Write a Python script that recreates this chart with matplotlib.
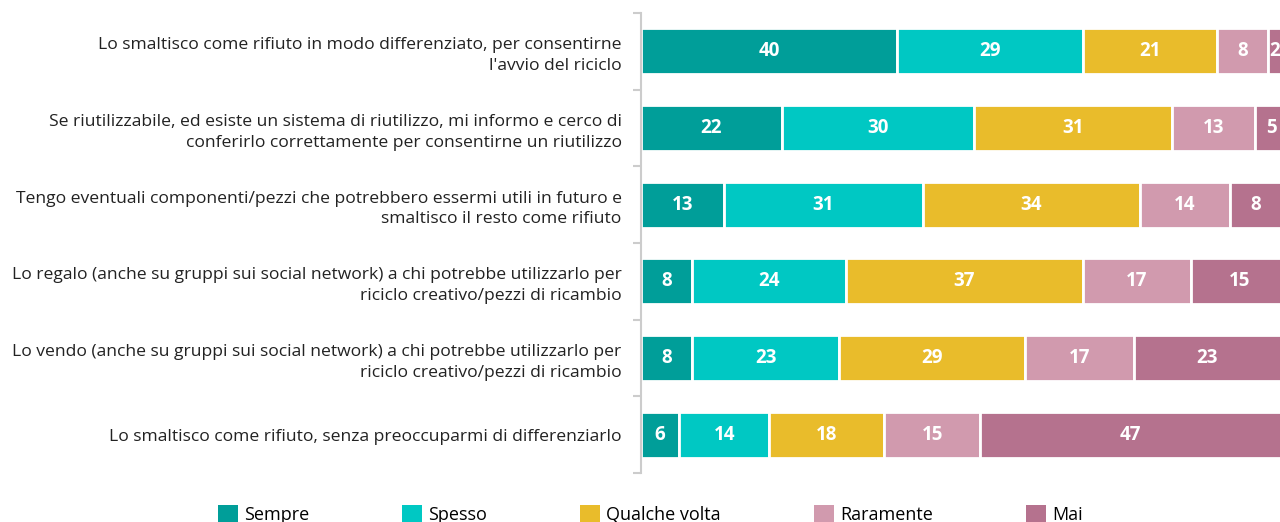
import numpy as np
import matplotlib.pyplot as plt
from matplotlib.patches import Patch

plt.rcParams['font.family'] = ['Open Sans', 'DejaVu Sans']

categorie = [
    "Lo smaltisco come rifiuto in modo differenziato, per consentirne\nl'avvio del riciclo",
    "Se riutilizzabile, ed esiste un sistema di riutilizzo, mi informo e cerco di\nconferirlo correttamente per consentirne un riutilizzo",
    "Tengo eventuali componenti/pezzi che potrebbero essermi utili in futuro e\nsmaltisco il resto come rifiuto",
    "Lo regalo (anche su gruppi sui social network) a chi potrebbe utilizzarlo per\nriciclo creativo/pezzi di ricambio",
    "Lo vendo (anche su gruppi sui social network) a chi potrebbe utilizzarlo per\nriciclo creativo/pezzi di ricambio",
    "Lo smaltisco come rifiuto, senza preoccuparmi di differenziarlo",
]
serie = ["Sempre", "Spesso", "Qualche volta", "Raramente", "Mai"]
sempre = [40, 22, 13, 8, 8, 6]
spesso = [29, 30, 31, 24, 23, 14]
qualche_volta = [21, 31, 34, 37, 29, 18]
raramente = [8, 13, 14, 17, 17, 15]
mai = [2, 5, 8, 15, 23, 47]
colori = ["#009E99", "#00C8C3", "#E9BC2B", "#D19AAE", "#B5728E"]

valori = [sempre, spesso, qualche_volta, raramente, mai]

fig = plt.figure(figsize=(12.8, 5.22), dpi=100)
ax = fig.add_axes([0.5008, 0.094, 0.5, 0.881])

y = np.arange(len(categorie))
left = np.zeros(len(categorie))
for nome, vals, col in zip(serie, valori, colori):
    vals = np.array(vals, dtype=float)
    ax.barh(y, vals, left=left, height=0.6, color=col, edgecolor='white', linewidth=2)
    for yi, l, v in zip(y, left, vals):
        ax.text(l + v / 2, yi, str(int(v)), ha='center', va='center',
                color='white', fontsize=13.5, fontweight='bold', clip_on=True)
    left += vals

ax.set_xlim(0, 100)
ax.set_ylim(len(categorie) - 0.5, -0.5)
ax.set_yticks(y)
ax.set_yticklabels(categorie, fontsize=12.6, color='#222222', linespacing=1.4)
ax.tick_params(axis='y', which='major', length=0, pad=14)
ax.set_yticks(np.arange(-0.5, len(categorie)), minor=True)
ax.tick_params(axis='y', which='minor', length=6, color='#cccccc', width=1.5)
ax.set_xticks([])
for s in ['top', 'right', 'bottom']:
    ax.spines[s].set_visible(False)
ax.spines['left'].set_color('#cccccc')
ax.spines['left'].set_linewidth(1.5)

handles = [Patch(facecolor=c, edgecolor='none') for c in colori]
fig.legend(handles, serie, loc='center', bbox_to_anchor=(0.508, 0.014), ncol=5,
           frameon=False, fontsize=13, handlelength=1.1, handleheight=1.1,
           handletextpad=0.35, columnspacing=5.15)

fig.savefig('out.png', dpi=100)
